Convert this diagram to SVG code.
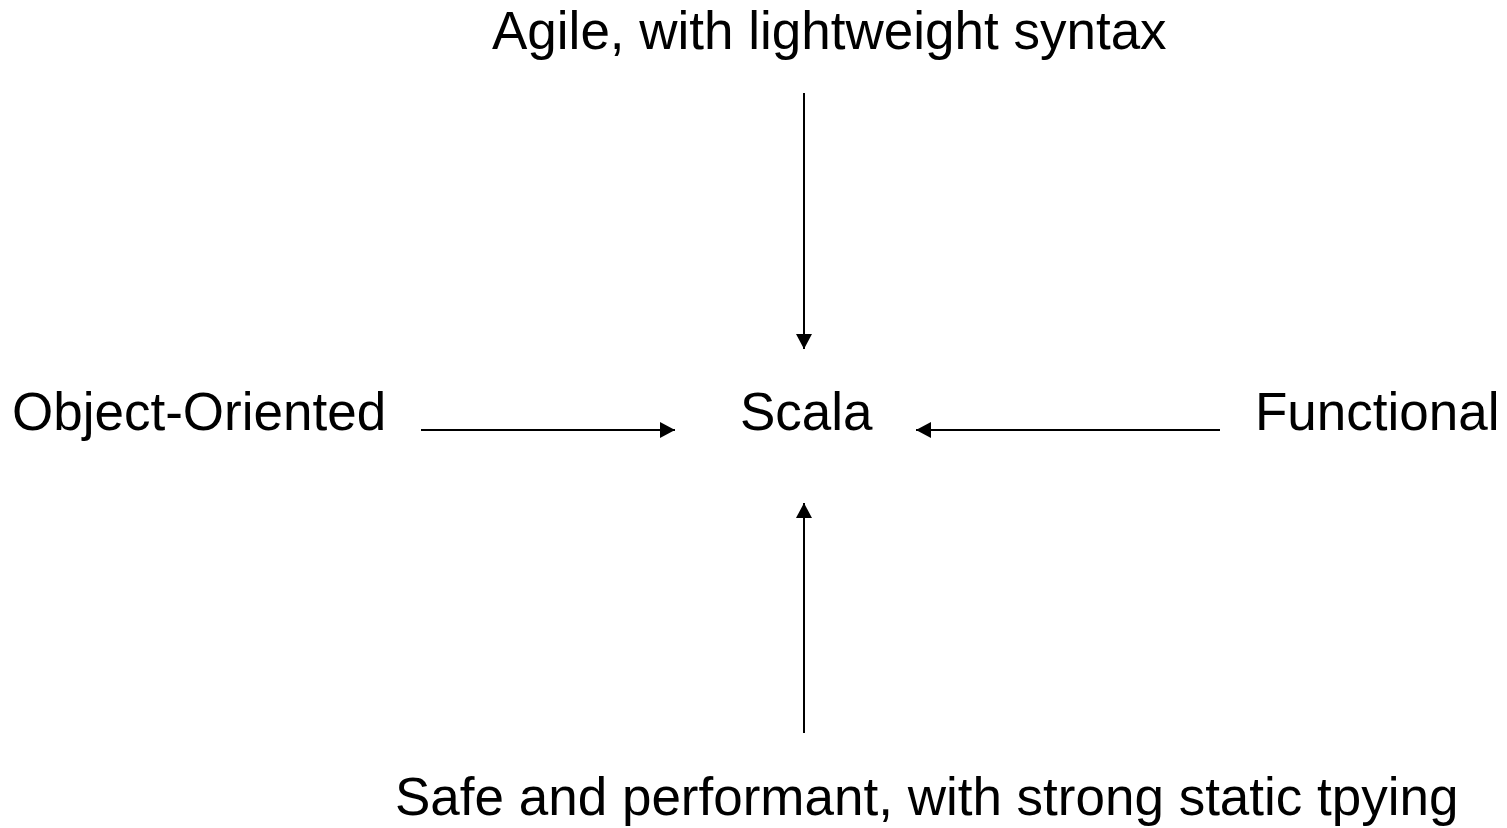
<svg xmlns="http://www.w3.org/2000/svg" width="1507" height="828" viewBox="0 0 1507 828">
  <style>
    .label { font-family: "Liberation Sans", Arial, sans-serif; font-size: 53px; fill: #000; }
    .edge { stroke: #000; stroke-width: 2; fill: none; marker-end: url(#arrow); }
  </style>
  <defs>
    <marker id="arrow" markerUnits="userSpaceOnUse" markerWidth="16" markerHeight="16" refX="15" refY="8" orient="auto">
      <path d="M0,0 L15,8 L0,16 Z" fill="#000"/>
    </marker>
  </defs>
  <rect width="1507" height="828" fill="#fff"/>
  <g id="agile"><text class="label" x="492" y="49">Agile, with lightweight syntax</text></g>
  <g id="object-oriented"><text class="label" x="12" y="430">Object-Oriented</text></g>
  <g id="scala"><text class="label" x="740" y="430">Scala</text></g>
  <g id="functional"><text class="label" x="1255" y="430">Functional</text></g>
  <g id="safe"><text class="label" x="395" y="815">Safe and performant, with strong static tpying</text></g>
  <g id="connectors">
    <line class="edge" x1="804" y1="93" x2="804" y2="349"/>
    <line class="edge" x1="421" y1="430" x2="675" y2="430"/>
    <line class="edge" x1="1220" y1="430" x2="916" y2="430"/>
    <line class="edge" x1="804" y1="733" x2="804" y2="503"/>
  </g>
</svg>
